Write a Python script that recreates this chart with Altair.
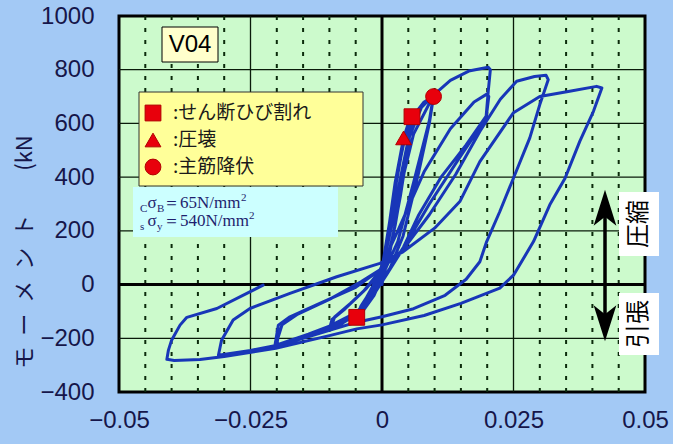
import altair as alt
import pandas as pd

# ---------------- data ----------------
# hysteresis path: drift angle (rad) and moment (kN·m), in loading order
drift = [
    0.0, 0.0004, 0.0012, 0.0025, 0.0041, 0.0050, 0.0057,
    0.0050, 0.0035, 0.0015, 0.0, -0.0020, -0.0040, -0.0048,
    -0.0040, -0.0020, 0.0, 0.0015, 0.0030, 0.0045, 0.0057,
    0.0045, 0.0025, 0.0005, -0.0015, -0.0035, -0.0050,
    -0.0040, -0.0020, 0.0, 0.0020, 0.0040, 0.0060, 0.0080, 0.0098,
    0.0090, 0.0070, 0.0040, 0.0015, 0.0, -0.0040, -0.0080, -0.0100,
    -0.0095, -0.0070, -0.0035, 0.0, 0.0025, 0.0050, 0.0075, 0.0098,
    0.0090, 0.0060, 0.0030, 0.0, -0.0040, -0.0095,
    -0.0090, -0.0060, -0.0030, 0.0, 0.0030, 0.0060, 0.0098,
    0.0130, 0.0165, 0.0202, 0.0206,
    0.0202, 0.0198, 0.0160, 0.0113, 0.0070, 0.0041, 0.0015, 0.0,
    -0.0050, -0.0100, -0.0150, -0.0204,
    -0.0203, -0.0197, -0.0175, -0.0112, -0.0050, -0.0004, 0.0030,
    0.0080, 0.0130, 0.0175, 0.0200, 0.0203,
    0.0198, 0.0150, 0.0090, 0.0045, 0.0010, -0.0030, -0.0080, -0.0140,
    -0.0200,
    -0.0198, -0.0190, -0.0160, -0.0100, -0.0040, 0.0,
    0.0040, 0.0090, 0.0140, 0.0186, 0.0225, 0.0256, 0.0290, 0.0312,
    0.0316,
    0.0300, 0.0281, 0.0250, 0.0224, 0.0199, 0.0186, 0.0160, 0.0120,
    0.0060, 0.0, -0.0048, -0.0100, -0.0150, -0.0204, -0.0250, -0.0295,
    -0.0311,
    -0.0305, -0.0283, -0.0251, -0.0175, -0.0086, -0.0004, 0.0040, 0.0100,
    0.0148, 0.0186, 0.0250, 0.0300, 0.0354, 0.0408, 0.0418,
    0.0402, 0.0376, 0.0348, 0.0319, 0.0288, 0.0250, 0.0224, 0.0150,
    0.0080, 0.0, -0.0048, -0.0100, -0.0202, -0.0300, -0.0346, -0.0395,
    -0.0409,
    -0.0406, -0.0400, -0.0384, -0.0371, -0.0314, -0.0226,
]
moment = [
    0, 70, 200, 380, 546, 600, 625,
    520, 330, 120, 20, -50, -105, -122,
    -80, -20, 40, 230, 420, 560, 615,
    450, 220, 50, -40, -95, -128,
    -85, -15, 60, 300, 520, 630, 680, 700,
    600, 420, 180, 60, 10, -100, -150, -165,
    -130, -90, -25, 60, 300, 540, 660, 705,
    610, 380, 160, 30, -95, -150,
    -120, -70, -15, 55, 320, 560, 705,
    760, 795, 809, 800,
    720, 627, 520, 402, 260, 140, 60, 20,
    -110, -160, -200, -232,
    -220, -151, -120, -64, -10, 54, 200,
    420, 580, 680, 710, 700,
    620, 480, 300, 150, 40, -80, -140, -185,
    -225,
    -200, -150, -110, -55, 10, 60,
    130, 260, 410, 570, 690, 757, 775, 779,
    763,
    670, 546, 397, 272, 160, 85, 20, -40,
    -90, -120, -140, -170, -200, -228, -245, -258,
    -263,
    -207, -132, -89, -33, 29, 79, 122, 210,
    309, 458, 640, 700, 719, 738, 732,
    645, 533, 396, 297, 160, 35, -13, -70,
    -115, -150, -165, -190, -237, -268, -279, -283,
    -278,
    -244, -207, -151, -122, -89, -2,
]

# damage events on the curve
event_drift = [0.0057, 0.0041, 0.0098, -0.0048]
event_moment = [625, 546, 700, -122]
event_kind = ["せん断ひび割れ", "圧壊", "主筋降伏", "せん断ひび割れ"]

legend_kinds = ["せん断ひび割れ", "圧壊", "主筋降伏"]
legend_labels = [":せん断ひび割れ", ":圧壊", ":主筋降伏"]
legend_shapes = ["square", "triangle-up", "circle"]

x_ticks = [-0.05, -0.025, 0, 0.025, 0.05]
y_ticks = [-400, -200, 0, 200, 400, 600, 800, 1000]
x_major_grid = [-0.025, 0.025]
y_major_grid = [-200, 200, 400, 600, 800]
x_minor_grid = [-0.045, -0.04, -0.035, -0.03, -0.02, -0.015, -0.01, -0.005,
                0.005, 0.01, 0.015, 0.02, 0.03, 0.035, 0.04, 0.045]

# ---------------- styling ----------------
BG = "#a3c9f5"
PLOT_BG = "#ccfacc"
NAVY = "#16164a"
LINE = "#1836b8"
RED = "#e8000c"
NUM_FONT = "Liberation Sans"
JP_FONT = "Noto Sans CJK JP"
SERIF = "Liberation Serif"

W, H = 526, 376

xs = alt.Scale(domain=[-0.05, 0.05], nice=False, zero=False)
ys = alt.Scale(domain=[-400, 1000], nice=False, zero=False)
xa = alt.Axis(values=x_ticks, title=None, grid=False, ticks=False, domain=False,
              labelFont=NUM_FONT, labelFontSize=24, labelColor=NAVY,
              labelPadding=16, labelFlush=False, labelOverlap=False,
              labelExpr="datum.value == 0 ? '0' : format(datum.value, '.3~f')")
ya = alt.Axis(values=y_ticks, title=None, grid=False, ticks=False, domain=False,
              labelFont=NUM_FONT, labelFontSize=24, labelColor=NAVY,
              labelPadding=25, labelFlush=False, labelOverlap=False, format="d")


def X(f):
    return alt.X(f, type="quantitative", scale=xs, axis=xa)


def Y(f):
    return alt.Y(f, type="quantitative", scale=ys, axis=ya)


one = pd.DataFrame({"a": [0]})


def txt(t, x, y, size, font, color="black", align="left", baseline="middle", angle=None):
    kw = dict(text=t, font=font, fontSize=size, color=color, align=align, baseline=baseline)
    if angle is not None:
        kw["angle"] = angle
    return alt.Chart(one).mark_text(**kw).encode(x=alt.value(x), y=alt.value(y))


def box(x1, x2, y1, y2, fill, stroke=None, sw=1):
    kw = dict(fill=fill)
    if stroke:
        kw.update(stroke=stroke, strokeWidth=sw)
    else:
        kw.update(strokeWidth=0)
    return alt.Chart(one).mark_rect(**kw).encode(
        x=alt.value(x1), x2=alt.value(x2), y=alt.value(y1), y2=alt.value(y2))


# ---------------- grid ----------------
minor = alt.Chart(pd.DataFrame({"x": x_minor_grid})).mark_rule(
    color="#0b2a0b", strokeWidth=2, strokeDash=[4, 8]).encode(x=X("x"))
vmajor = alt.Chart(pd.DataFrame({"x": x_major_grid})).mark_rule(
    color="#0a1a0a", strokeWidth=1.3).encode(x=X("x"))
hmajor = alt.Chart(pd.DataFrame({"y": y_major_grid})).mark_rule(
    color="#0a1a0a", strokeWidth=1.3).encode(y=Y("y"))
zero_v = alt.Chart(pd.DataFrame({"x": [0]})).mark_rule(
    color="black", strokeWidth=3).encode(x=X("x"))
zero_h = alt.Chart(pd.DataFrame({"y": [0]})).mark_rule(
    color="black", strokeWidth=3).encode(y=Y("y"))

# ---------------- curve & events ----------------
curve_df = pd.DataFrame({"x": drift, "y": moment, "i": list(range(len(drift)))})
curve = alt.Chart(curve_df).mark_line(
    color=LINE, strokeWidth=3, strokeJoin="round", strokeCap="round").encode(
    x=X("x"), y=Y("y"), order=alt.Order("i:Q"))

shape_scale = alt.Scale(domain=legend_kinds, range=legend_shapes)
ev_df = pd.DataFrame({"x": event_drift, "y": event_moment, "k": event_kind})
events = alt.Chart(ev_df).mark_point(
    filled=True, fill=RED, stroke="#b00000", strokeWidth=1, opacity=1, size=250).encode(
    x=X("x"), y=Y("y"), shape=alt.Shape("k:N", scale=shape_scale, legend=None))

# ---------------- annotations ----------------
layers = [minor, vmajor, hmajor, zero_v, zero_h, curve, events]

# y-axis title
layers.append(txt("モ\u2002ー\u2002メ\u2002ン\u2002ト\u3000\u3000(kN", -94, 236, 22, JP_FONT,
                  color=NAVY, align="center", angle=270))

# V04 label
layers.append(box(43, 99, 11, 46, "#ffffcc", "black", 1))
layers.append(txt("V04", 71, 29, 24, NUM_FONT, align="center"))

# legend
layers.append(box(20, 244, 76, 170, "#ffff99", "#333333", 1))
leg_y = [97, 124, 151]
for k, lab, shp, yy in zip(legend_kinds, legend_labels, legend_shapes, leg_y):
    layers.append(alt.Chart(one).mark_point(
        shape=shp, filled=True, fill=RED, stroke="#b00000", strokeWidth=1, opacity=1,
        size=250).encode(x=alt.value(34), y=alt.value(yy)))
    layers.append(txt(lab, 54, yy, 19, JP_FONT, color="#1a1a1a"))

# material strengths
layers.append(box(14, 219, 171, 221, "#ccffff"))
ann = [("C", 21, 196, 11), ("σ", 28.5, 192, 17), ("B", 38, 196, 11),
       ("＝65N/mm", 44, 192, 17), ("2", 122, 185, 11),
       ("s", 21, 214, 11), ("σ", 28.5, 210, 17), ("y", 38, 214, 11),
       ("＝540N/mm", 44, 210, 17), ("2", 130, 203, 11)]
for t, x, y, s in ann:
    layers.append(txt(t, x, y, s, SERIF, color="#1e1e6e", baseline="alphabetic"))

# compression / tension arrow
AX = 486
up_head = "M0,-1 L0.63,1 L0,0.5 L-0.63,1 Z"
dn_head = "M0,1 L0.63,-1 L0,-0.5 L-0.63,-1 Z"
layers.append(alt.Chart(one).mark_rule(color="black", strokeWidth=3.5).encode(
    x=alt.value(AX), y=alt.value(185), y2=alt.value(314)))
layers.append(alt.Chart(one).mark_point(shape=up_head, filled=True, fill="black",
                                        stroke="black", opacity=1, size=900).encode(
    x=alt.value(AX), y=alt.value(192)))
layers.append(alt.Chart(one).mark_point(shape=dn_head, filled=True, fill="black",
                                        stroke="black", opacity=1, size=900).encode(
    x=alt.value(AX), y=alt.value(307)))
layers.append(box(500, 540, 176, 240, "white"))
layers.append(txt("圧縮", 520, 208, 24, JP_FONT, align="center", angle=270))
layers.append(box(500, 540, 277, 339, "white"))
layers.append(txt("引張", 520, 308, 24, JP_FONT, align="center", angle=270))

chart = alt.layer(*layers).properties(
    width=W, height=H, background=BG,
    padding={"left": 119, "top": 16, "right": 28, "bottom": 52},
    autosize=alt.AutoSizeParams(type="none"),
).configure_view(fill=PLOT_BG, stroke="black", strokeWidth=3)

chart.save("out.html", embed_options={"renderer": "svg", "actions": False})
